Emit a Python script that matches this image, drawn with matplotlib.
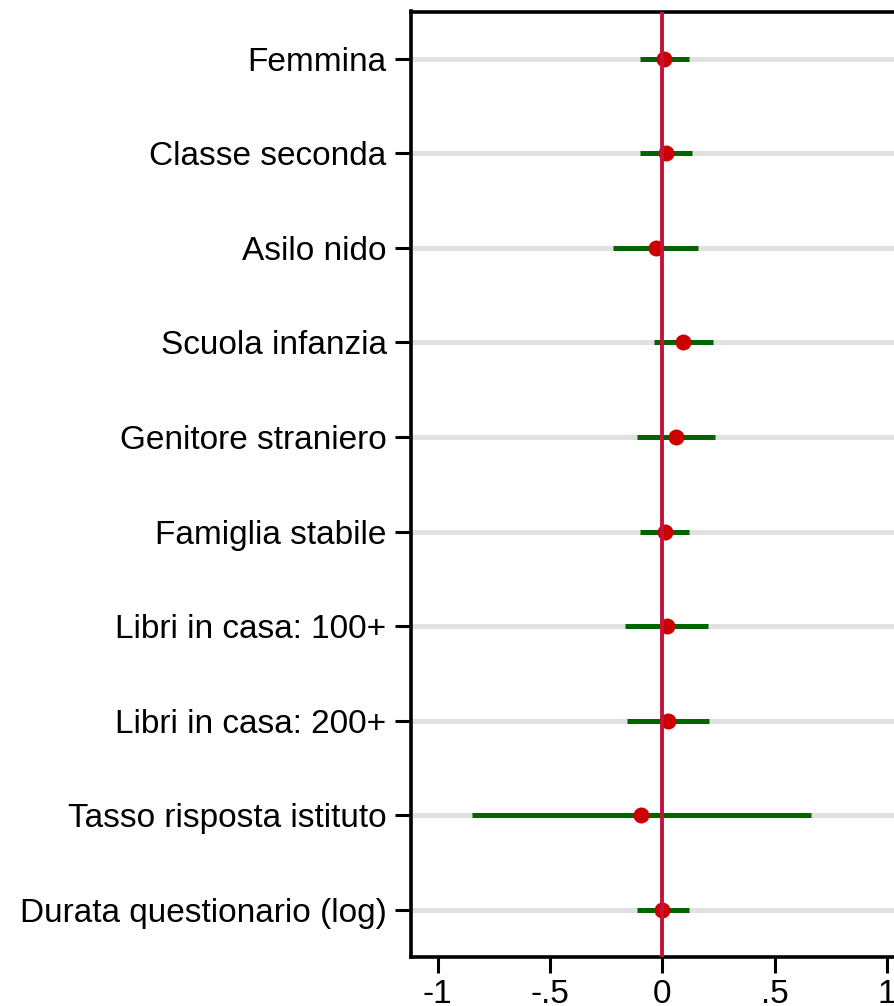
import numpy as np
import matplotlib
matplotlib.use("Agg")
import matplotlib.pyplot as plt

# coefficient plot data (top to bottom)
labels = ["Femmina", "Classe seconda", "Asilo nido", "Scuola infanzia",
          "Genitore straniero", "Famiglia stabile", "Libri in casa: 100+",
          "Libri in casa: 200+", "Tasso risposta istituto",
          "Durata questionario (log)"]
coef = [0.008, 0.015, -0.029, 0.094, 0.061, 0.011, 0.020, 0.025, -0.095, 0.000]
ci_lo = [-0.100, -0.099, -0.218, -0.037, -0.113, -0.099, -0.166, -0.156, -0.849, -0.113]
ci_hi = [0.120, 0.131, 0.160, 0.227, 0.235, 0.119, 0.205, 0.208, 0.661, 0.119]
xticks = [-1, -0.5, 0, 0.5, 1]
xticklabels = ["-1", "-.5", "0", ".5", "1"]

plt.rcParams['font.family'] = ['Liberation Sans', 'DejaVu Sans']

W, H = 894, 1006
fig = plt.figure(figsize=(W / 100, H / 100), dpi=100)

# axes geometry in pixels (right side runs past the figure edge)
x0_px, scale = 662.3, 224.5
xmin, xmax = -1.12, 1.12
left_px = x0_px + xmin * scale
width_px = (xmax - xmin) * scale
top_px, bot_px = 11.5, 957
ax = fig.add_axes([left_px / W, 1 - bot_px / H, width_px / W, (bot_px - top_px) / H])

n = len(labels)
ypos = np.arange(n, 0, -1)

# light grid lines at each row
for y in ypos:
    ax.axhline(y, color="#e0e0e0", lw=3.5, zorder=1)

ax.hlines(ypos, ci_lo, ci_hi, color="#006400", lw=3.6, zorder=2)
ax.plot(coef, ypos, "o", color="#cc0000", ms=11.5, mec="none", zorder=3)
ax.axvline(0, color="#c8103c", lw=2.8, zorder=4)

ax.set_xlim(xmin, xmax)
ax.set_ylim(0.5, n + 0.5)
ax.set_yticks(ypos)
ax.set_yticklabels(labels, fontsize=24)
ax.set_xticks(xticks)
ax.set_xticklabels(xticklabels, fontsize=24)

for s in ["left", "bottom", "top"]:
    ax.spines[s].set_linewidth(2.6)
ax.spines["right"].set_visible(False)
ax.tick_params(axis="both", length=11.5, width=2.2)
ax.tick_params(axis="y", pad=6)
ax.tick_params(axis="x", pad=4)

fig.savefig("out.png", dpi=100)
